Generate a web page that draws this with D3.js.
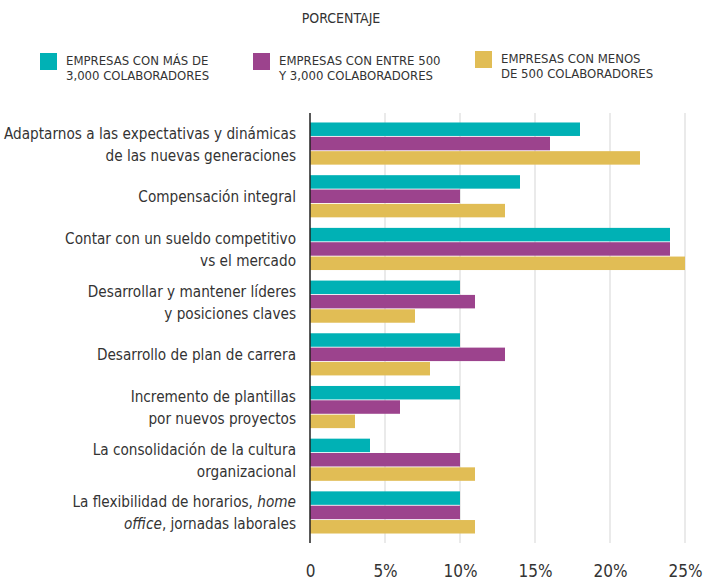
<!DOCTYPE html>
<html>
<head>
<meta charset="utf-8">
<script src="https://cdn.jsdelivr.net/npm/d3@7"></script>
<style>
  body { margin: 0; background: #fff; }
  text { font-family: "DejaVu Sans Condensed", "DejaVu Sans", sans-serif; font-stretch: condensed; fill: #333; }
</style>
</head>
<body>
<div id="chart"></div>
<script>
// data (italic parts marked by *)
var categories = [
    ["Adaptarnos a las expectativas y dinámicas", "de las nuevas generaciones"],
    ["Compensación integral"],
    ["Contar con un sueldo competitivo", "vs el mercado"],
    ["Desarrollar y mantener líderes", "y posiciones claves"],
    ["Desarrollo de plan de carrera"],
    ["Incremento de plantillas", "por nuevos proyectos"],
    ["La consolidación de la cultura", "organizacional"],
    ["La flexibilidad de horarios, *home*", "*office*, jornadas laborales"]
];
var seriesNames = [
    ["EMPRESAS CON MÁS DE", "3,000 COLABORADORES"],
    ["EMPRESAS CON ENTRE 500", "Y 3,000 COLABORADORES"],
    ["EMPRESAS CON MENOS", "DE 500 COLABORADORES"]
];
var seriesColors = ["#00b1b5", "#9c438d", "#e1bd55"];
var mas3000 = [18, 14, 24, 10, 10, 10, 4, 10];
var entre500 = [16, 10, 24, 11, 13, 6, 10, 10];
var menos500 = [22, 13, 25, 7, 8, 3, 11, 11];
var tickValues = [0, 5, 10, 15, 20, 25];

var values = [mas3000, entre500, menos500];

var width = 703, height = 581;
var margin = { top: 113, right: 17, bottom: 38, left: 310 };

var svg = d3.select("#chart")
    .append("svg")
    .attr("width", width)
    .attr("height", height);

// title
svg.append("text")
    .attr("x", 341)
    .attr("y", 23)
    .attr("text-anchor", "middle")
    .style("font-size", "14px")
    .text("PORCENTAJE");

// legend
var legendX = [40, 253, 475];
var legendY = [53, 53, 51];
seriesNames.forEach(function (name, i) {
    var g = svg.append("g").attr("transform", "translate(" + legendX[i] + "," + legendY[i] + ")");
    g.append("rect")
        .attr("width", 17)
        .attr("height", 17)
        .attr("fill", seriesColors[i]);
    g.selectAll("text")
        .data(name)
        .enter()
        .append("text")
        .attr("x", 26)
        .attr("y", function (d, j) { return 12 + j * 15; })
        .style("font-size", "13px")
        .text(function (d) { return d; });
});

// scales
var x = d3.scaleLinear()
    .domain([0, 25])
    .range([margin.left, margin.left + 375]);

var y = d3.scaleBand()
    .domain(d3.range(categories.length))
    .range([margin.top, height - margin.bottom])
    .paddingInner(0.2)
    .paddingOuter(0.18);

var ySub = d3.scaleBand()
    .domain(d3.range(3))
    .range([0, y.bandwidth()])
    .paddingInner(0.06);

// gridlines
svg.append("g")
    .selectAll("line")
    .data(tickValues.slice(1))
    .enter()
    .append("line")
    .attr("x1", function (d) { return x(d); })
    .attr("x2", function (d) { return x(d); })
    .attr("y1", margin.top)
    .attr("y2", height - margin.bottom)
    .attr("stroke", "#e3e3e3")
    .attr("stroke-width", 1.5);

// bars
var groups = svg.append("g")
    .selectAll("g")
    .data(categories)
    .enter()
    .append("g")
    .attr("transform", function (d, i) { return "translate(0," + y(i) + ")"; });

groups.selectAll("rect")
    .data(function (d, i) { return values.map(function (s) { return s[i]; }); })
    .enter()
    .append("rect")
    .attr("x", x(0))
    .attr("y", function (d, j) { return ySub(j); })
    .attr("width", function (d) { return x(d) - x(0); })
    .attr("height", ySub.bandwidth())
    .attr("fill", function (d, j) { return seriesColors[j]; });

// category labels, squeezed a little to mimic the condensed face
groups.each(function (lines) {
    var g = d3.select(this);
    var mid = y.bandwidth() / 2;
    var lh = 22;
    var startY = mid - (lines.length - 1) * lh / 2 + 6;
    lines.forEach(function (line, k) {
        var t = g.append("text")
            .attr("transform", "translate(296," + (startY + k * lh) + ") scale(0.92,1)")
            .attr("text-anchor", "end")
            .style("font-size", "16.5px");
        line.split("*").forEach(function (part, p) {
            if (part === "") return;
            t.append("tspan")
                .style("font-style", p % 2 === 1 ? "italic" : "normal")
                .text(part);
        });
    });
});

// y axis line
svg.append("line")
    .attr("x1", x(0))
    .attr("x2", x(0))
    .attr("y1", margin.top)
    .attr("y2", height - margin.bottom)
    .attr("stroke", "#222")
    .attr("stroke-width", 1.5);

// x axis
var axisX = svg.append("g")
    .attr("transform", "translate(0," + (height - margin.bottom) + ")")
    .call(d3.axisBottom(x)
        .tickValues(tickValues)
        .tickSize(0)
        .tickPadding(22)
        .tickFormat(function (d) { return d === 0 ? "0" : d + "%"; }));
axisX.select(".domain").remove();
axisX.selectAll("text")
    .style("font-size", "17px")
    .style("font-family", null)
    .attr("fill", "#333");
</script>
</body>
</html>
